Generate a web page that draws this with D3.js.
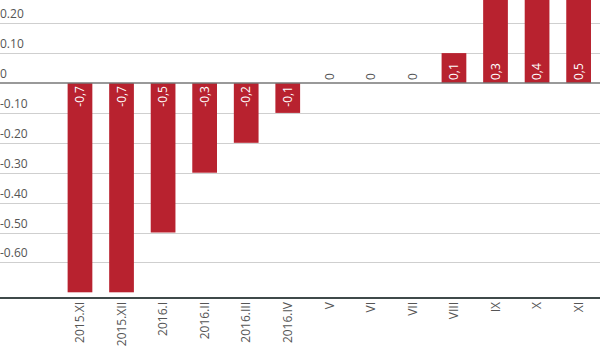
<!DOCTYPE html>
<html><head><meta charset="utf-8">
<script src="https://cdn.jsdelivr.net/npm/d3@7"></script>
<style>body{margin:0;background:#fff}svg{display:block}text{font-family:"Open Sans",sans-serif}</style>
</head><body><svg id="c" width="600" height="360"></svg>
<script>
const categories = ["2015.XI","2015.XII","2016.I","2016.II","2016.III","2016.IV","V","VI","VII","VIII","IX","X","XI"];
const values = [-0.7,-0.7,-0.5,-0.3,-0.2,-0.1,0,0,0,0.1,0.3,0.4,0.5];
const yTicks = [0.2,0.1,0,-0.1,-0.2,-0.3,-0.4,-0.5,-0.6];

const svg = d3.select("#c");
const W = 600;
const y = d3.scaleLinear().domain([0,-0.6]).range([83,262.4]);
const x = d3.scaleBand().domain(categories).range([58.6,600]).paddingInner(0.405).paddingOuter(0.217);
const axisY = 298;

// gridlines
svg.append("g").selectAll("line").data(yTicks.filter(d=>d!==0)).join("line")
  .attr("x1",0).attr("x2",W).attr("y1",d=>Math.round(y(d))+0.5).attr("y2",d=>Math.round(y(d))+0.5)
  .attr("stroke","#cfcfcf").attr("stroke-width",1);
// tick labels
svg.append("g").selectAll("text").data(yTicks).join("text")
  .attr("x",0).attr("y",d=>y(d)-5)
  .attr("font-size",12).attr("fill","#555")
  .text(d=>d===0?"0":d.toFixed(2));

// bars
svg.append("g").selectAll("rect").data(values.map((v,i)=>({c:categories[i],v}))).join("rect")
  .attr("x",d=>x(d.c)).attr("width",x.bandwidth())
  .attr("y",d=>Math.min(y(d.v),y(0))).attr("height",d=>Math.abs(y(d.v)-y(0)))
  .attr("fill","#b8222f");

// zero line
svg.append("line").attr("x1",0).attr("x2",W).attr("y1",y(0)).attr("y2",y(0))
  .attr("stroke","#777").attr("stroke-width",1.5);

// bottom axis line
svg.append("line").attr("x1",0).attr("x2",W).attr("y1",axisY).attr("y2",axisY)
  .attr("stroke","#3f4a4a").attr("stroke-width",2);

// value labels
const fmt = v => v===0 ? "0" : v.toFixed(1).replace(".",",");
svg.append("g").selectAll("text").data(values.map((v,i)=>({c:categories[i],v}))).join("text")
  .attr("transform",d=>`translate(${x(d.c)+x.bandwidth()/2},${d.v<0?y(0)+3:y(0)-3}) rotate(-90)`)
  .attr("text-anchor",d=>d.v<0?"end":"start")
  .attr("dy","0.35em")
  .attr("font-size",12)
  .attr("fill",d=>d.v===0?"#555":"#fff")
  .text(d=>fmt(d.v));

// x labels
svg.append("g").selectAll("text").data(categories).join("text")
  .attr("transform",d=>`translate(${x(d)+x.bandwidth()/2},${axisY+4}) rotate(-90)`)
  .attr("text-anchor","end").attr("dy","0.35em")
  .attr("font-size",12).attr("fill","#555")
  .text(d=>d);
</script></body></html>
